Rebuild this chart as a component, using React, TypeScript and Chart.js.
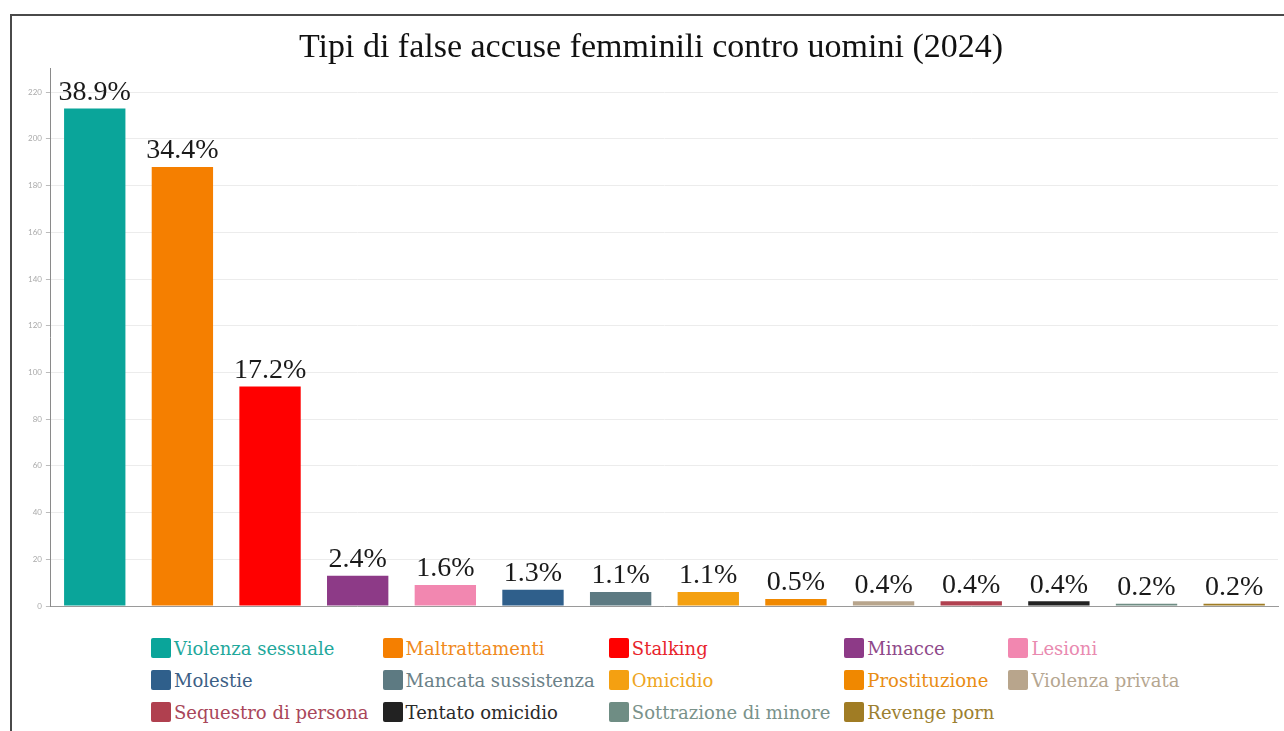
import React, { useEffect, useRef } from "react";
import { Chart, registerables } from "chart.js";

Chart.register(...registerables);

const titleText = "Tipi di false accuse femminili contro uomini (2024)";

const categories = [
  "Violenza sessuale",
  "Maltrattamenti",
  "Stalking",
  "Minacce",
  "Lesioni",
  "Molestie",
  "Mancata sussistenza",
  "Omicidio",
  "Prostituzione",
  "Violenza privata",
  "Sequestro di persona",
  "Tentato omicidio",
  "Sottrazione di minore",
  "Revenge porn",
];

const counts = [213, 188, 94, 13, 9, 7, 6, 6, 3, 2, 2, 2, 1, 1];

const barColors = [
  "#0aa59a",
  "#f57f00",
  "#ff0000",
  "#8d3a87",
  "#f287b0",
  "#2f5f8b",
  "#5d7a82",
  "#f4a011",
  "#f08800",
  "#b8a58c",
  "#b0404f",
  "#222222",
  "#6f8d84",
  "#a07c24",
];

const legendTextColors = [
  "#1fa89c",
  "#f08a1c",
  "#e8242c",
  "#8f4a8a",
  "#e98ab0",
  "#3d5f85",
  "#6b8188",
  "#eea522",
  "#e98d14",
  "#b5a690",
  "#a9465a",
  "#2a2a2a",
  "#7a928a",
  "#9c8030",
];

const yMax = 230;
const yStep = 20;

export default function App() {
  const canvasRef = useRef<HTMLCanvasElement>(null);

  useEffect(() => {
    if (!canvasRef.current) return;
    const total = counts.reduce((a, b) => a + b, 0);
    const pctLabels = counts.map((c) => ((c / total) * 100).toFixed(1) + "%");

    const labelPlugin = {
      id: "pctLabels",
      afterDatasetsDraw(chart: any) {
        const ctx = chart.ctx;
        const meta = chart.getDatasetMeta(0);
        ctx.save();
        ctx.font = '28px "Liberation Serif"';
        ctx.fillStyle = "#1a1a1a";
        ctx.textAlign = "center";
        ctx.textBaseline = "bottom";
        meta.data.forEach((el: any, i: number) => {
          const { x, y } = el.getProps(["x", "y"], true);
          ctx.fillText(pctLabels[i], x, y - 2);
        });
        ctx.restore();
      },
    };

    const chart = new Chart(canvasRef.current, {
      type: "bar",
      data: {
        labels: categories,
        datasets: [
          {
            label: "Accuse",
            data: counts,
            backgroundColor: barColors,
            borderWidth: 0,
            barPercentage: 0.7,
            categoryPercentage: 1.0,
          },
        ],
      },
      options: {
        animation: false,
        responsive: true,
        maintainAspectRatio: false,
        layout: { padding: { left: 12, right: 6, bottom: 2, top: 0 } },
        plugins: {
          legend: { display: false },
          tooltip: { enabled: false },
          title: {
            display: true,
            text: titleText,
            color: "#111",
            font: { family: "Liberation Serif", size: 34, weight: "normal" },
            padding: { top: 12, bottom: 0 },
          },
        },
        scales: {
          x: {
            grid: { display: false },
            border: { display: true, color: "#9a9a9a" },
            ticks: { display: false },
          },
          y: {
            min: 0,
            max: yMax,
            ticks: {
              stepSize: yStep,
              color: "#aaaaaa",
              font: { family: "Lato", size: 8 },
              padding: 4,
            },
            grid: { color: "#ececec", tickLength: 5, tickColor: "#bbbbbb" },
            border: { color: "#8a8a8a" },
            afterBuildTicks: (axis: any) => {
              axis.ticks = axis.ticks.filter((t: any) => t.value % yStep === 0);
            },
          },
        },
      },
      plugins: [labelPlugin],
    });
    return () => chart.destroy();
  }, []);

  return (
    <div style={{ position: "absolute", left: 0, top: 0, width: 1284, height: 731, overflow: "hidden", background: "#fff" }}>
      <div
        style={{
          position: "absolute",
          left: 10,
          top: 14,
          width: 1290,
          height: 740,
          border: "2px solid #4a4a4a",
          boxSizing: "border-box",
        }}
      />
      <div style={{ position: "absolute", left: 12, top: 16, width: 1272, height: 600 }}>
        <canvas ref={canvasRef} />
      </div>
      <div
        style={{
          position: "absolute",
          left: 151,
          top: 632,
          display: "grid",
          gridTemplateColumns: "repeat(5, auto)",
          columnGap: 14,
          fontFamily: '"DejaVu Serif", serif',
          fontSize: 18,
        }}
      >
        {categories.map((c, i) => (
          <div key={c} style={{ display: "flex", alignItems: "center", height: 32, whiteSpace: "nowrap" }}>
            <span
              style={{
                display: "inline-block",
                width: 20,
                height: 20,
                borderRadius: 2,
                background: barColors[i],
                marginRight: 3,
                flex: "none",
              }}
            />
            <span style={{ color: legendTextColors[i] }}>{c}</span>
          </div>
        ))}
      </div>
    </div>
  );
}
